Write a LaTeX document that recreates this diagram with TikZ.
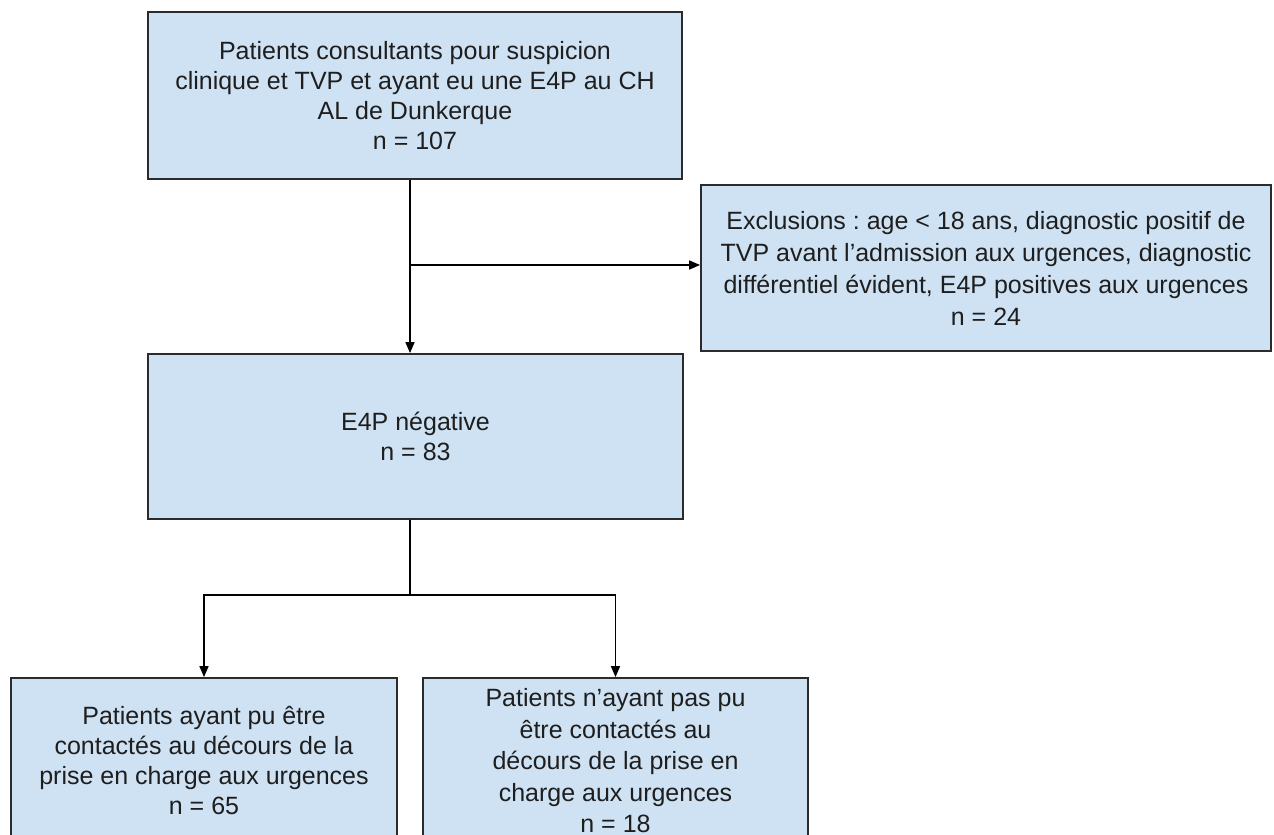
\documentclass[tikz,border=0pt]{standalone}
\usepackage{fontspec}
\setmainfont{Liberation Sans}
\usetikzlibrary{arrows.meta,calc}
\definecolor{boxfill}{HTML}{CFE2F3}
\definecolor{boxline}{HTML}{2B2B2B}
\definecolor{txt}{HTML}{1E1E1E}
\frenchspacing
\begin{document}
\begin{tikzpicture}[x=1pt,y=-1pt,
  box/.style={draw=boxline,line width=1.8pt,fill=boxfill,text=txt,align=center,
    inner sep=0pt,font=\fontsize{25}{30}\selectfont},
  arr/.style={draw=black,line width=1.6pt,-{Triangle[length=11pt,width=9pt]}},
  conn/.style={draw=black,line width=1.6pt}]
\clip (0,0) rectangle (1274,835);
\fill[white] (0,0) rectangle (1274,835);
\useasboundingbox (0,0) rectangle (1274,835);
\node[box,minimum width=534pt,minimum height=167pt] (top) at (415,95.5)
  {Patients consultants pour suspicion\\clinique et TVP et ayant eu une E4P au CH\\AL de Dunkerque\\n = 107};
\node[box,minimum width=570pt,minimum height=166pt,font=\fontsize{25}{32}\selectfont] (excl) at (986,268)
  {Exclusions : age < 18 ans, diagnostic positif de\\TVP avant l’admission aux urgences, diagnostic\\différentiel évident, E4P positives aux urgences\\n = 24};
\node[box,minimum width=535pt,minimum height=165pt] (mid) at (415.5,436.5)
  {E4P négative\\n = 83};
\node[box,minimum width=386pt,minimum height=166pt] (bl) at (204,761)
  {Patients ayant pu être\\contactés au décours de la\\prise en charge aux urgences\\n = 65};
\node[box,minimum width=385pt,minimum height=166pt,font=\fontsize{25}{31.5}\selectfont] (br) at (615.5,761)
  {Patients n’ayant pas pu\\être contactés au\\décours de la prise en\\charge aux urgences\\n = 18};
\coordinate (v) at (410,0);
\coordinate (j) at (410,265);
\coordinate (s) at (410,595);
\draw[arr] (top.south -| v) -- (mid.north -| v);
\draw[arr] (j) -- (j -| excl.west);
\draw[conn] (mid.south -| v) -- (s);
\draw[arr] (s) -| (bl.north);
\draw[arr] (s) -| (br.north);
\end{tikzpicture}
\end{document}
